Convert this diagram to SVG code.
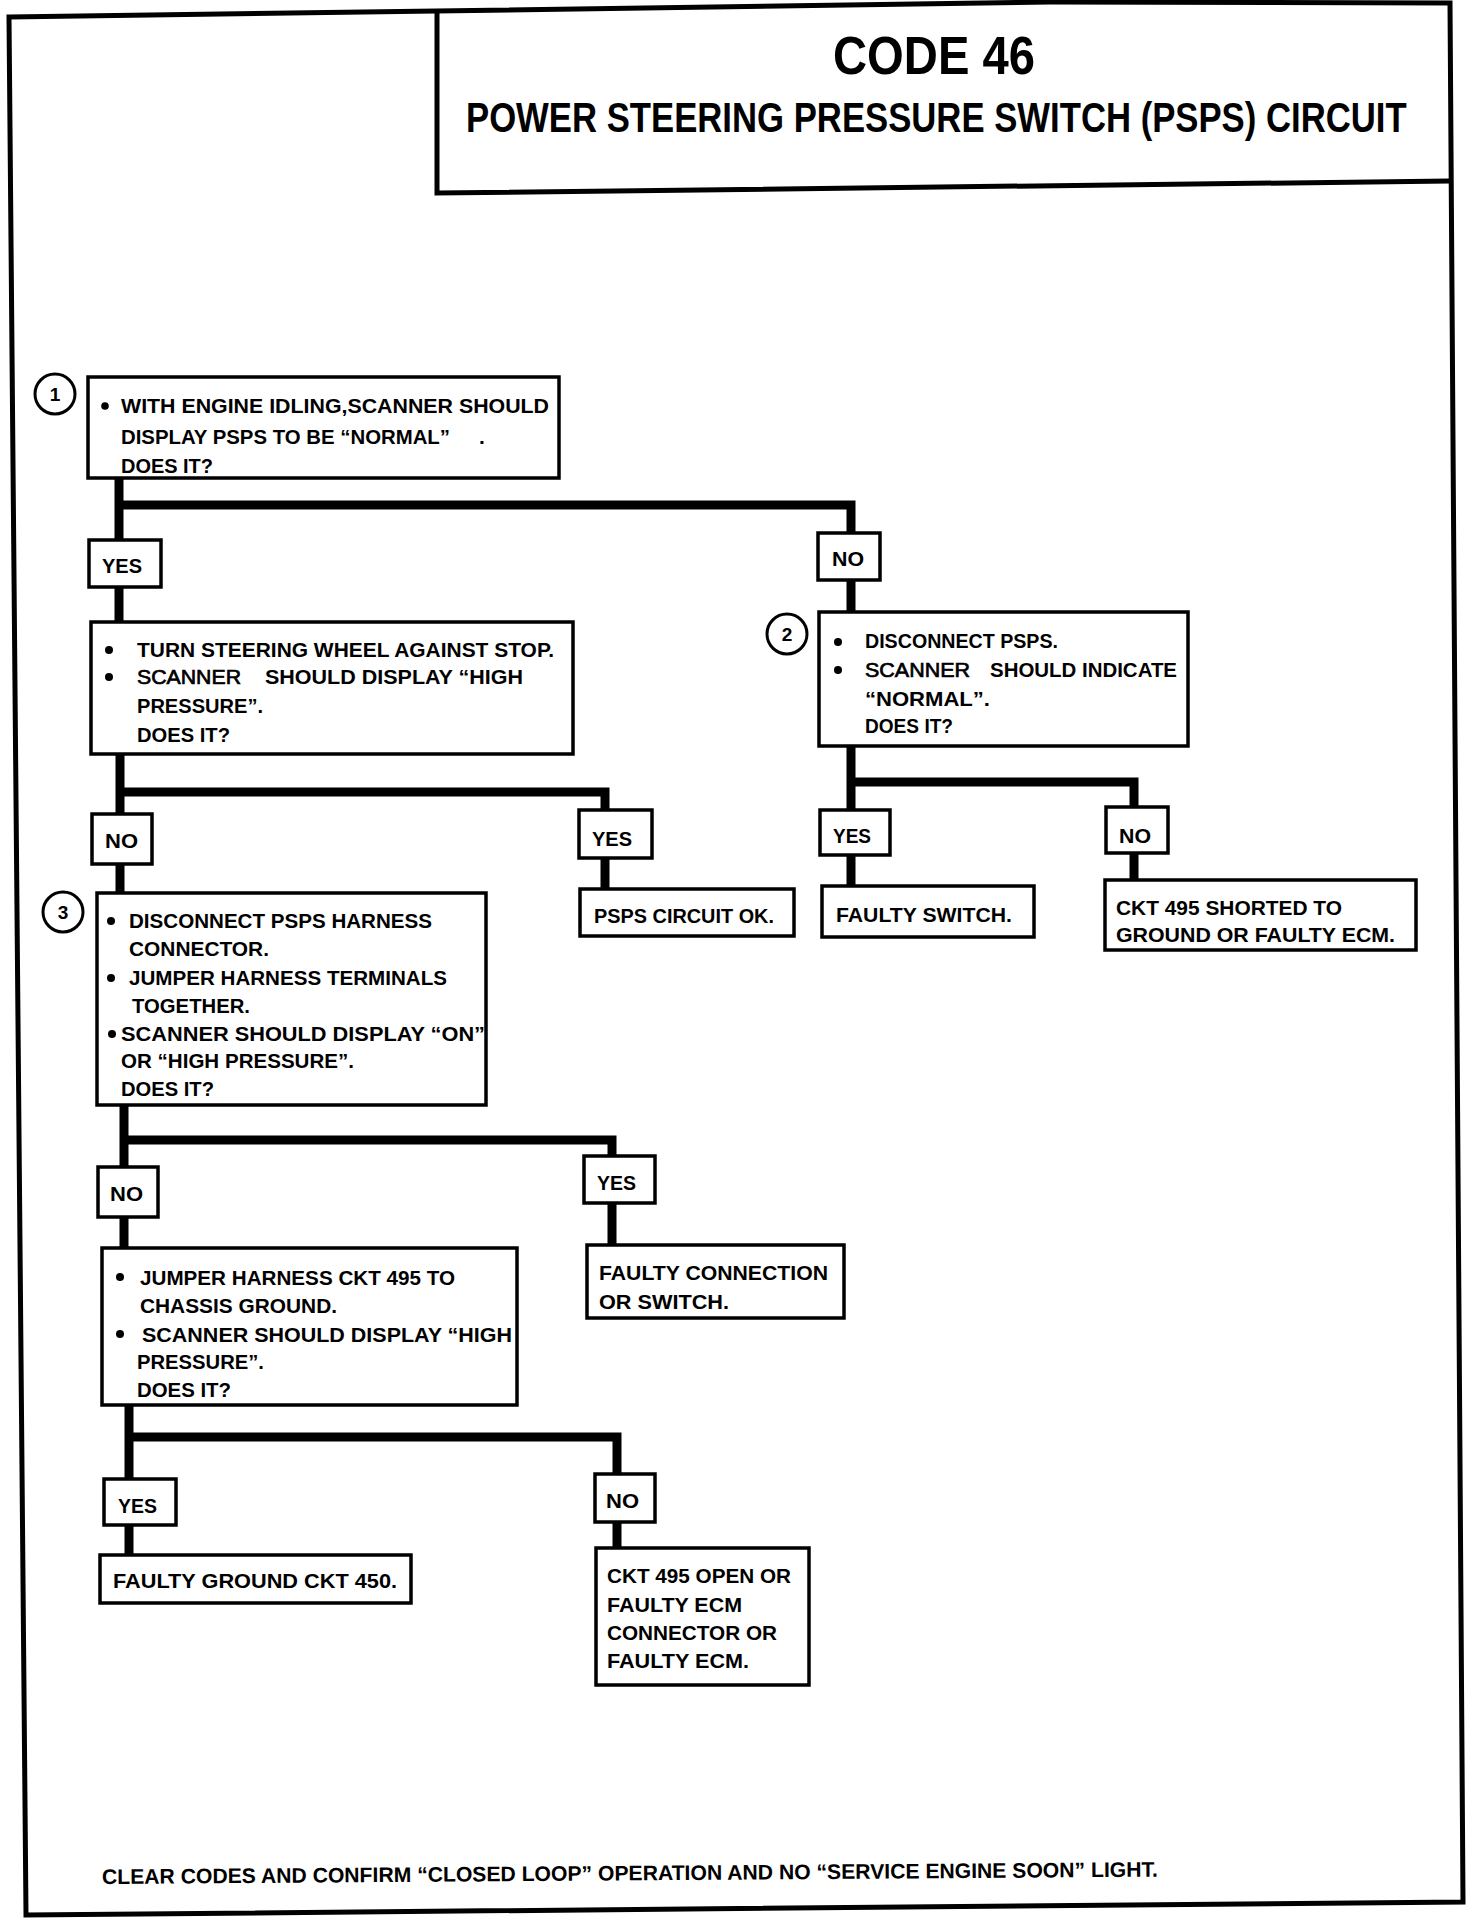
<svg xmlns="http://www.w3.org/2000/svg" width="1472" height="1924" viewBox="0 0 1472 1924">
<style>
text{font-family:"Liberation Sans",Arial,sans-serif;font-weight:700;fill:#000}
.t{font-size:21px}
.lab{font-size:21px}
.num{font-size:19px;text-anchor:middle}
.lite{font-weight:400;stroke:#000;stroke-width:0.7}
.box{fill:#fff;stroke:#000;stroke-width:3.5}
.circ{fill:#fff;stroke:#000;stroke-width:3}
.wire{fill:none;stroke:#000;stroke-width:9;stroke-linejoin:miter}
.frame{fill:none;stroke:#000;stroke-width:5}
</style>
<rect x="0" y="0" width="1472" height="1924" fill="#fff"/>
<g id="frame">
<path class="frame" d="M9 17 L436 11 L1050 2 L1450 3 L1463 1902 L26 1915 Z"/>
<path class="frame" d="M437 11 V193 L1450 181" stroke-width="4"/>
<text x="833" y="74" font-size="53" textLength="202" lengthAdjust="spacingAndGlyphs">CODE 46</text>
<text x="466" y="0" font-size="34.7" transform="translate(0 132) scale(1 1.24)">POWER STEERING PRESSURE SWITCH (PSPS) CIRCUIT</text>
</g>
<g id="connectors">
<path class="wire" d="M119 478 V622 M119 505 H851 V612"/>
<path class="wire" d="M120 754 V893 M120 792 H605 V889"/>
<path class="wire" d="M851 746 V886 M851 782 H1134 V880"/>
<path class="wire" d="M124 1105 V1248 M124 1140 H612 V1245"/>
<path class="wire" d="M129 1405 V1555 M129 1437 H617 V1548"/>
</g>
<g id="step1">
<circle class="circ" cx="55" cy="394" r="20"/>
<text class="num" x="55" y="401">1</text>
<rect class="box" x="88" y="377" width="471" height="101"/>
<circle cx="105" cy="406" r="3.8"/>
<text class="t" x="121" y="413" textLength="428" lengthAdjust="spacingAndGlyphs">WITH ENGINE IDLING,SCANNER SHOULD</text>
<text class="t" x="121" y="444" textLength="329" lengthAdjust="spacingAndGlyphs">DISPLAY PSPS TO BE “NORMAL”</text>
<text class="t" x="479" y="444">.</text>
<text class="t" x="121" y="473" textLength="92" lengthAdjust="spacingAndGlyphs">DOES IT?</text>
</g>
<g id="yes1"><rect class="box" x="89" y="540" width="72" height="47"/><text class="lab" x="102" y="573" textLength="40" lengthAdjust="spacingAndGlyphs">YES</text></g>
<g id="no1"><rect class="box" x="818" y="533" width="62" height="47"/><text class="lab" x="832" y="566" textLength="32" lengthAdjust="spacingAndGlyphs">NO</text></g>
<g id="step-turn">
<rect class="box" x="91" y="622" width="482" height="132"/>
<circle cx="109" cy="650" r="4"/>
<circle cx="109" cy="677" r="4"/>
<text class="t" x="137" y="657" textLength="417" lengthAdjust="spacingAndGlyphs">TURN STEERING WHEEL AGAINST STOP.</text>
<text class="t lite" x="137" y="684" textLength="104" lengthAdjust="spacingAndGlyphs">SCANNER</text>
<text class="t" x="265" y="684" textLength="258" lengthAdjust="spacingAndGlyphs">SHOULD DISPLAY “HIGH</text>
<text class="t" x="137" y="713" textLength="126" lengthAdjust="spacingAndGlyphs">PRESSURE”.</text>
<text class="t" x="137" y="742" textLength="93" lengthAdjust="spacingAndGlyphs">DOES IT?</text>
</g>
<g id="step2">
<circle class="circ" cx="787" cy="634" r="20"/>
<text class="num" x="787" y="641">2</text>
<rect class="box" x="819" y="612" width="369" height="134"/>
<circle cx="838" cy="642" r="4"/>
<circle cx="838" cy="670" r="4"/>
<text class="t" x="865" y="648" textLength="193" lengthAdjust="spacingAndGlyphs">DISCONNECT PSPS.</text>
<text class="t lite" x="865" y="677" textLength="105" lengthAdjust="spacingAndGlyphs">SCANNER</text>
<text class="t" x="990" y="677" textLength="187" lengthAdjust="spacingAndGlyphs">SHOULD INDICATE</text>
<text class="t" x="865" y="706" textLength="125" lengthAdjust="spacingAndGlyphs">“NORMAL”.</text>
<text class="t" x="865" y="733" textLength="88" lengthAdjust="spacingAndGlyphs">DOES IT?</text>
</g>
<g id="yes2"><rect class="box" x="820" y="810" width="70" height="45"/><text class="lab" x="833" y="843" textLength="38" lengthAdjust="spacingAndGlyphs">YES</text></g>
<g id="no2"><rect class="box" x="1106" y="807" width="62" height="46"/><text class="lab" x="1119" y="843" textLength="32" lengthAdjust="spacingAndGlyphs">NO</text></g>
<g id="faulty-switch"><rect class="box" x="822" y="886" width="212" height="51"/><text class="t" x="836" y="922" textLength="176" lengthAdjust="spacingAndGlyphs">FAULTY SWITCH.</text></g>
<g id="ckt-shorted"><rect class="box" x="1105" y="880" width="311" height="70"/>
<text class="t" x="1116" y="915" textLength="226" lengthAdjust="spacingAndGlyphs">CKT 495 SHORTED TO</text>
<text class="t" x="1116" y="942" textLength="279" lengthAdjust="spacingAndGlyphs">GROUND OR FAULTY ECM.</text></g>
<g id="no3"><rect class="box" x="92" y="814" width="60" height="50"/><text class="lab" x="105" y="848" textLength="33" lengthAdjust="spacingAndGlyphs">NO</text></g>
<g id="yes3"><rect class="box" x="579" y="810" width="73" height="48"/><text class="lab" x="592" y="846" textLength="40" lengthAdjust="spacingAndGlyphs">YES</text></g>
<g id="psps-ok"><rect class="box" x="580" y="889" width="214" height="47"/><text class="t" x="594" y="923" textLength="180" lengthAdjust="spacingAndGlyphs">PSPS CIRCUIT OK.</text></g>
<g id="step3">
<circle class="circ" cx="63" cy="912" r="20"/>
<text class="num" x="63" y="919">3</text>
<rect class="box" x="97" y="893" width="389" height="212"/>
<circle cx="111" cy="921" r="4"/>
<circle cx="111" cy="978" r="4"/>
<circle cx="112" cy="1034" r="4"/>
<text class="t" x="129" y="928" textLength="303" lengthAdjust="spacingAndGlyphs">DISCONNECT PSPS  HARNESS</text>
<text class="t" x="129" y="956" textLength="140" lengthAdjust="spacingAndGlyphs">CONNECTOR.</text>
<text class="t" x="129" y="985" textLength="318" lengthAdjust="spacingAndGlyphs">JUMPER HARNESS TERMINALS</text>
<text class="t" x="132" y="1013" textLength="118" lengthAdjust="spacingAndGlyphs">TOGETHER.</text>
<text class="t" x="121" y="1041" textLength="364" lengthAdjust="spacingAndGlyphs">SCANNER SHOULD DISPLAY “ON”</text>
<text class="t" x="121" y="1068" textLength="233" lengthAdjust="spacingAndGlyphs">OR “HIGH PRESSURE”.</text>
<text class="t" x="121" y="1096" textLength="93" lengthAdjust="spacingAndGlyphs">DOES IT?</text>
</g>
<g id="no4"><rect class="box" x="98" y="1167" width="60" height="50"/><text class="lab" x="110" y="1201" textLength="33" lengthAdjust="spacingAndGlyphs">NO</text></g>
<g id="yes4"><rect class="box" x="584" y="1156" width="71" height="47"/><text class="lab" x="597" y="1190" textLength="39" lengthAdjust="spacingAndGlyphs">YES</text></g>
<g id="faulty-connection"><rect class="box" x="587" y="1245" width="257" height="73"/>
<text class="t" x="599" y="1280" textLength="229" lengthAdjust="spacingAndGlyphs">FAULTY CONNECTION</text>
<text class="t" x="599" y="1309" textLength="130" lengthAdjust="spacingAndGlyphs">OR  SWITCH.</text></g>
<g id="step4">
<rect class="box" x="102" y="1248" width="415" height="157"/>
<circle cx="120" cy="1277" r="4"/>
<circle cx="120" cy="1334" r="4"/>
<text class="t" x="140" y="1285" textLength="315" lengthAdjust="spacingAndGlyphs">JUMPER HARNESS CKT 495 TO</text>
<text class="t" x="140" y="1313" textLength="197" lengthAdjust="spacingAndGlyphs">CHASSIS GROUND.</text>
<text class="t" x="142" y="1342" textLength="370" lengthAdjust="spacingAndGlyphs">SCANNER SHOULD DISPLAY “HIGH</text>
<text class="t" x="137" y="1369" textLength="127" lengthAdjust="spacingAndGlyphs">PRESSURE”.</text>
<text class="t" x="137" y="1397" textLength="94" lengthAdjust="spacingAndGlyphs">DOES IT?</text>
</g>
<g id="yes5"><rect class="box" x="104" y="1479" width="72" height="46"/><text class="lab" x="118" y="1513" textLength="39" lengthAdjust="spacingAndGlyphs">YES</text></g>
<g id="no5"><rect class="box" x="595" y="1474" width="60" height="48"/><text class="lab" x="606" y="1508" textLength="33" lengthAdjust="spacingAndGlyphs">NO</text></g>
<g id="faulty-ground"><rect class="box" x="100" y="1555" width="311" height="48"/><text class="t" x="113" y="1588" textLength="284" lengthAdjust="spacingAndGlyphs">FAULTY GROUND CKT  450.</text></g>
<g id="ckt-open"><rect class="box" x="596" y="1548" width="213" height="137"/>
<text class="t" x="607" y="1583" textLength="184" lengthAdjust="spacingAndGlyphs">CKT 495 OPEN OR</text>
<text class="t" x="607" y="1612" textLength="135" lengthAdjust="spacingAndGlyphs">FAULTY ECM</text>
<text class="t" x="607" y="1640" textLength="170" lengthAdjust="spacingAndGlyphs">CONNECTOR OR</text>
<text class="t" x="607" y="1668" textLength="142" lengthAdjust="spacingAndGlyphs">FAULTY ECM.</text></g>
<g id="footer">
<text class="t" x="102" y="1884" transform="rotate(-0.4 102 1884)" textLength="1056" lengthAdjust="spacingAndGlyphs">CLEAR CODES AND CONFIRM “CLOSED LOOP”  OPERATION AND NO “SERVICE ENGINE SOON” LIGHT.</text>
</g>
</svg>
